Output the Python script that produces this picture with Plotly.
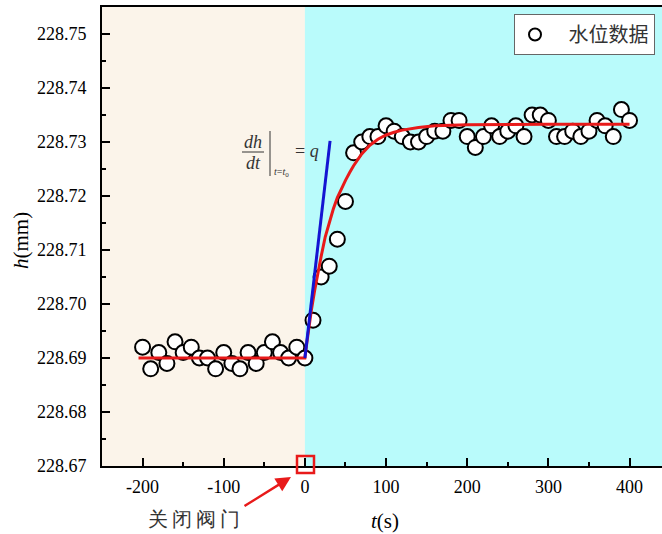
import plotly.graph_objects as go

# ---------------- data ----------------
t_before = [-200, -190, -180, -170, -160, -150, -140, -130, -120, -110, -100,
            -90, -80, -70, -60, -50, -40, -30, -20, -10, 0]
h_before = [228.692, 228.688, 228.691, 228.689, 228.693, 228.691, 228.692, 228.690,
            228.690, 228.688, 228.691, 228.689, 228.688, 228.691, 228.689, 228.691,
            228.693, 228.691, 228.690, 228.692, 228.690]

t_after = [10, 20, 30, 40, 50, 60, 70, 80, 90, 100, 110, 120, 130, 140, 150, 160,
           170, 180, 190, 200, 210, 220, 230, 240, 250, 260, 270, 280, 290, 300,
           310, 320, 330, 340, 350, 360, 370, 380, 390, 400]
h_after = [228.697, 228.705, 228.707, 228.712, 228.719, 228.728, 228.730, 228.731,
           228.731, 228.733, 228.732, 228.731, 228.730, 228.730, 228.731, 228.732,
           228.732, 228.734, 228.734, 228.731, 228.729, 228.731, 228.733, 228.731,
           228.732, 228.733, 228.731, 228.735, 228.735, 228.734, 228.731, 228.731,
           228.732, 228.731, 228.732, 228.734, 228.733, 228.731, 228.736, 228.734]

fit_t = [-205, 0, 2, 5, 8, 12, 16, 20, 25, 30, 35, 40, 45, 50, 55, 60, 70, 80, 90,
         100, 110, 120, 140, 160, 200, 250, 300, 350, 400]
fit_h = [228.6900, 228.6900, 228.6924, 228.6958, 228.6989, 228.7025, 228.7058,
         228.7088, 228.7124, 228.7152, 228.7176, 228.7197, 228.7214, 228.7229,
         228.7243, 228.7256, 228.7278, 228.7294, 228.7305, 228.7313, 228.7318,
         228.7322, 228.7327, 228.7330, 228.7332, 228.7333, 228.7333, 228.7333,
         228.7333]

tangent_t = [0, 31]
tangent_h = [228.690, 228.7302]

x_tickvals = [-200, -100, 0, 100, 200, 300, 400]
x_ticktext = ["-200", "-100", "0", "100", "200", "300", "400"]
y_tickvals = [228.67, 228.68, 228.69, 228.70, 228.71, 228.72, 228.73, 228.74, 228.75]
y_ticktext = ["228.67", "228.68", "228.69", "228.70", "228.71", "228.72", "228.73",
              "228.74", "228.75"]

# ---------------- layout helpers ----------------
W, H = 662, 534
L, T, R, B = 102, 7, 0, 68
PW = W - L - R
PH = H - T - B


def xp(px):
    return (px - L) / PW


def yp(py):
    return (H - B - py) / PH


SERIF = "Liberation Serif"
CJK = "Noto Sans CJK SC"
RED = "#E81A1A"
BLUE = "#1414D2"

fig = go.Figure()

fig.add_trace(go.Scatter(
    x=t_before + t_after, y=h_before + h_after, mode="markers", name="   水位数据",
    marker=dict(symbol="circle", size=15, color="white",
                line=dict(color="black", width=2)),
))
fig.add_trace(go.Scatter(
    x=fit_t, y=fit_h, mode="lines", line=dict(color=RED, width=3),
    showlegend=False,
))
fig.add_trace(go.Scatter(
    x=tangent_t, y=tangent_h, mode="lines", line=dict(color=BLUE, width=3),
    showlegend=False,
))

shapes = [
    # cyan background after valve closing
    dict(type="rect", xref="x", yref="paper", x0=0, x1=440, y0=0, y1=1,
         fillcolor="#B9FBFB", line=dict(width=0), layer="below"),
    # fraction bar
    dict(type="line", xref="paper", yref="paper", x0=xp(242), x1=xp(264),
         y0=yp(152), y1=yp(152), line=dict(color="#333", width=1)),
    # evaluation bar
    dict(type="line", xref="paper", yref="paper", x0=xp(270), x1=xp(270),
         y0=yp(131), y1=yp(176), line=dict(color="#333", width=1)),
    # red square at t=0
    dict(type="rect", xref="paper", yref="paper", x0=xp(297), x1=xp(314),
         y0=yp(473), y1=yp(456), line=dict(color=RED, width=2.5)),
]


def ann(text, px, py, size, family=SERIF, color="#333", **kw):
    d = dict(text=text, x=xp(px), y=yp(py), xref="paper", yref="paper",
             xanchor="center", yanchor="middle", showarrow=False,
             font=dict(family=family, size=size, color=color))
    d.update(kw)
    return d


annotations = [
    ann("<i>dh</i>", 253, 142, 18),
    ann("<i>dt</i>", 253, 163, 18),
    ann("<i>t</i>=<i>t</i><sub>0</sub>", 281, 172, 10),
    ann("= <i>q</i>", 307, 151, 18),
    ann("<i>h</i>(mm)", 21, 240, 21, color="black", textangle=-90),
    ann("<i>t</i>(s)", 385, 521, 21, color="black"),
    ann("关\u2009闭\u2009阀\u2009门", 194, 519, 20),
    dict(text="", x=xp(291), y=yp(477), xref="paper", yref="paper", showarrow=True,
         ax=-48, ay=30, arrowhead=2, arrowsize=1.2, arrowwidth=2.5, arrowcolor=RED),
]

fig.update_layout(
    width=W, height=H,
    margin=dict(l=L, r=R, t=T, b=B, pad=0),
    paper_bgcolor="white",
    plot_bgcolor="#FBF4EA",
    shapes=shapes,
    annotations=annotations,
    showlegend=True,
    legend=dict(x=xp(514), y=yp(14), xanchor="left", yanchor="top",
                bgcolor="white", bordercolor="#666", borderwidth=1,
                font=dict(family=CJK, size=20, color="#333"),
                itemsizing="constant", tracegroupgap=0),
    xaxis=dict(range=[-250, 440], showgrid=False, zeroline=False,
               showline=True, linecolor="black", linewidth=2, mirror=True,
               tickmode="array", tickvals=x_tickvals, ticktext=x_ticktext,
               ticks="inside", ticklen=8, tickwidth=2, tickcolor="black",
               ticklabelstandoff=3,
               tickfont=dict(family=SERIF, size=18, color="black"),
               minor=dict(ticks="inside", ticklen=4, tickwidth=2, tickcolor="black",
                          tick0=50, dtick=100)),
    yaxis=dict(range=[228.67, 228.755], showgrid=False, zeroline=False,
               showline=True, linecolor="black", linewidth=2, mirror=False,
               tickmode="array", tickvals=y_tickvals, ticktext=y_ticktext,
               ticks="inside", ticklen=8, tickwidth=2, tickcolor="black",
               ticklabelstandoff=10,
               tickfont=dict(family=SERIF, size=18, color="black"),
               minor=dict(ticks="inside", ticklen=4, tickwidth=2, tickcolor="black",
                          tick0=228.675, dtick=0.01)),
)

fig.write_html("out.html")
